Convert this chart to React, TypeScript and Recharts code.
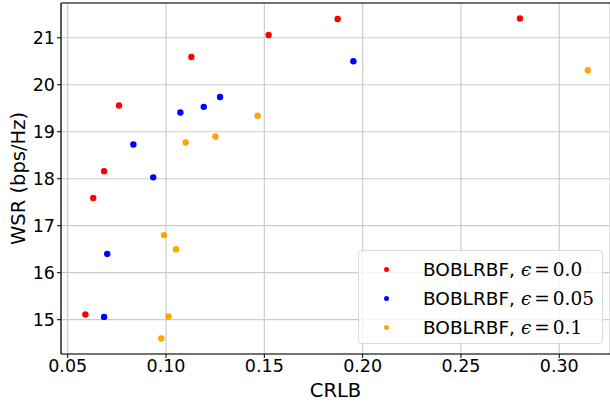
import {
  ScatterChart, Scatter, XAxis, YAxis, CartesianGrid, ReferenceLine,
} from 'recharts'

// values (CRLB vs WSR)
const RED_CRLB = [0.059, 0.063, 0.0685, 0.0761, 0.1129, 0.1522, 0.1873, 0.28]
const RED_WSR = [15.11, 17.59, 18.16, 19.56, 20.59, 21.06, 21.4, 21.41]
const BLUE_CRLB = [0.0685, 0.0701, 0.0834, 0.0935, 0.1073, 0.1192, 0.1275, 0.1953]
const BLUE_WSR = [15.06, 16.4, 18.73, 18.03, 19.41, 19.53, 19.74, 20.5]
const ORANGE_CRLB = [0.0976, 0.099, 0.1012, 0.1051, 0.11, 0.1251, 0.1466, 0.3145]
const ORANGE_WSR = [14.6, 16.8, 15.07, 16.5, 18.77, 18.9, 19.34, 20.31]

const X_TICKS = [0.05, 0.1, 0.15, 0.2, 0.25, 0.3]
const Y_TICKS = [15, 16, 17, 18, 19, 20, 21]
const X_DOMAIN = [0.0466, 0.3258]
const Y_DOMAIN = [14.27, 21.74]

const SERIES = [
  { name: 'BOBLRBF, ', eps: '0.0', color: '#ff0000', xs: RED_CRLB, ys: RED_WSR },
  { name: 'BOBLRBF, ', eps: '0.05', color: '#0000ff', xs: BLUE_CRLB, ys: BLUE_WSR },
  { name: 'BOBLRBF, ', eps: '0.1', color: '#ffa500', xs: ORANGE_CRLB, ys: ORANGE_WSR },
]

const FONT = '"DejaVu Sans", sans-serif'
const SERIF = '"DejaVu Serif", serif'
const tickStyle = { fontSize: 17.5, fill: '#000', fontFamily: FONT }

const dot = (color: string) => (props: any) =>
  <circle cx={props.cx} cy={props.cy} r={3.2} fill={color} />

// y label centred on the axes, like matplotlib
const yLabel = (props: any) => {
  const vb = props.viewBox
  const cy = vb.y + vb.height / 2
  return (
    <text x={18} y={cy} transform={`rotate(-90 18 ${cy})`} textAnchor="middle"
      dominantBaseline="central" fontSize={19.5} fontFamily={FONT} fill="#000">
      WSR (bps/Hz)
    </text>
  )
}

// matplotlib-style legend box, laid over the plot (does not take space from it)
function MplLegend() {
  return (
    <div style={{
      position: 'absolute', left: 358, top: 250,
      width: 245, height: 94, boxSizing: 'border-box', border: '1px solid #d9d9d9',
      borderRadius: 4, background: 'rgba(255,255,255,0.8)', paddingTop: 4,
    }}>
      {SERIES.map((s) => (
        <div key={s.eps} style={{ display: 'flex', alignItems: 'center', height: 29 }}>
          <span style={{ width: 5, height: 5, borderRadius: 3, background: s.color, marginLeft: 25 }} />
          <span style={{ marginLeft: 34, fontSize: 18.5, fontFamily: FONT, color: '#000', whiteSpace: 'pre' }}>
            {s.name}
            <span style={{ fontFamily: SERIF, fontSize: 18.5 }}>
              <i>ϵ</i><span style={{ margin: '0 3px' }}>=</span>{s.eps}
            </span>
          </span>
        </div>
      ))}
    </div>
  )
}

export default function App() {
  return (
    <div style={{ position: 'absolute', left: 0, top: 0, width: 610, height: 405, background: '#fff' }}>
      <ScatterChart width={610} height={405} margin={{ top: 3, right: 0, left: 0, bottom: 0 }}>
        <CartesianGrid stroke="#cccccc" strokeWidth={1.2} />
        <XAxis type="number" dataKey="x" domain={X_DOMAIN} ticks={X_TICKS} allowDataOverflow
          tickFormatter={(v) => v.toFixed(2)} height={51} tick={tickStyle}
          axisLine={{ stroke: '#000', strokeWidth: 1.2 }} tickLine={{ stroke: '#000' }} tickSize={4}
          label={{ value: 'CRLB', position: 'insideBottom', offset: 8, fontSize: 19.5, fill: '#000', fontFamily: FONT }} />
        <YAxis type="number" dataKey="y" domain={Y_DOMAIN} ticks={Y_TICKS} allowDataOverflow
          width={61} tick={tickStyle}
          axisLine={{ stroke: '#000', strokeWidth: 1.2 }} tickLine={{ stroke: '#000' }} tickSize={4}
          label={yLabel} />
        <ReferenceLine y={Y_DOMAIN[1]} stroke="#000" strokeWidth={1.2} />
        {SERIES.map((s) => (
          <Scatter key={s.eps} name={s.name + s.eps} data={s.xs.map((x, i) => ({ x, y: s.ys[i] }))}
            fill={s.color} shape={dot(s.color)} isAnimationActive={false} />
        ))}
      </ScatterChart>
      <MplLegend />
    </div>
  )
}
